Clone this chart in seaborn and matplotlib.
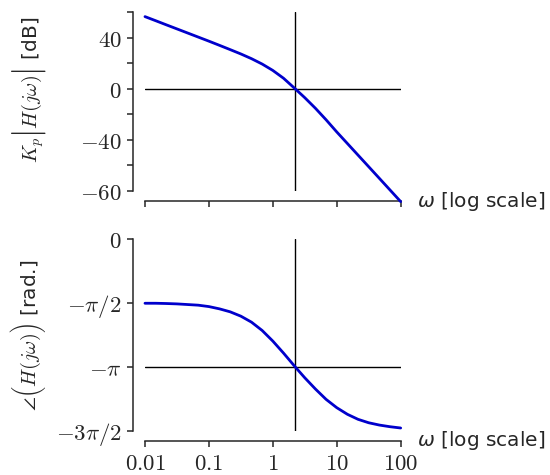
import numpy as np
import matplotlib
matplotlib.use("Agg")
import matplotlib.pyplot as plt
from matplotlib.ticker import NullLocator, FixedLocator
from matplotlib.mathtext import MathTextParser
import seaborn as sns

# ---- data ----
omega = [0.01, 0.0147, 0.0215, 0.0316, 0.0464, 0.0681, 0.1, 0.147, 0.215,
         0.316, 0.464, 0.681, 1.0, 1.47, 2.23, 3.16, 4.64, 6.81, 10.0,
         14.7, 21.5, 31.6, 46.4, 68.1, 100.0]
mag_db = [56.4, 53.2, 50.0, 46.8, 43.6, 40.4, 37.2, 33.9, 30.6,
          27.2, 23.5, 19.3, 14.3, 8.2, 0.0, -7.0, -15.3, -24.3, -33.8,
          -42.9, -51.9, -61.0, -70.1, -79.2, -88.3]
phase_pi = [-0.503, -0.503, -0.505, -0.508, -0.513, -0.518, -0.529, -0.547, -0.570,
            -0.604, -0.651, -0.716, -0.799, -0.893, -1.0, -1.086, -1.174, -1.255, -1.320,
            -1.372, -1.411, -1.438, -1.456, -1.469, -1.479]
crossover = 2.23

x_ticks = [0.01, 0.1, 1, 10, 100]
x_tick_labels = ["$0.01$", "$0.1$", "$1$", "$10$", "$100$"]
mag_ticks = [-80, -60, -40, -20, 0, 20, 40, 60]
mag_tick_labels = ["$-60$", "", "$-40$", "", "$0$", "", "$40$", ""]
phase_ticks_pi = [-1.5, -1.0, -0.5, 0.0]
phase_tick_labels = [r"$-3\pi/2$", r"$-\pi$", r"$-\pi/2$", r"$0$"]

x_label = r"$\omega$ [log scale]"

# ---- style ----
sns.set_style("ticks")
plt.rcParams["font.family"] = ["DejaVu Sans"]
plt.rcParams["mathtext.fontset"] = "cm"


def first_ok(cands):
    p = MathTextParser("path")
    for c in cands:
        try:
            p.parse(c, dpi=100)
            return c
        except Exception:
            pass
    return cands[-1]


BODY = r"\overset{\,}{\overset{\,}{\underset{\,}{H(j\omega)}}}"
mag_label = first_ok([
    r"$K_p\left|" + BODY + r"\right|$ [dB]",
    r"$K_p\left|H(j\omega)\right|$ [dB]",
])
phase_label = first_ok([
    r"$\angle\left(" + BODY + r"\right)$ [rad.]",
    r"$\angle\left(H(j\omega)\right)$ [rad.]",
])

curve_color = "#0000CC"
TICK_FS = 16.5
LABEL_FS = 14.5

fig = plt.figure(figsize=(5.5, 4.75), dpi=100)
ax1 = fig.add_axes([0.2636, 0.5979, 0.4649, 0.3768])
ax2 = fig.add_axes([0.2636, 0.0933, 0.4649, 0.4036])

phase = np.array(phase_pi) * np.pi

for ax in (ax1, ax2):
    ax.set_xscale("log")
    ax.set_xlim(0.01, 100)

sns.lineplot(x=omega, y=mag_db, ax=ax1, color=curve_color, lw=2, clip_on=False, zorder=3)
sns.lineplot(x=omega, y=phase, ax=ax2, color=curve_color, lw=2, clip_on=False, zorder=3)

ax1.axhline(0, color="k", lw=1, zorder=2)
ax1.axvline(crossover, color="k", lw=1, zorder=2)
ax2.axhline(-np.pi, color="k", lw=1, zorder=2)
ax2.axvline(crossover, color="k", lw=1, zorder=2)

ax1.set_ylim(-80, 60)
ax2.set_ylim(-1.5 * np.pi, 0)

ax1.yaxis.set_major_locator(FixedLocator(mag_ticks))
ax1.set_yticklabels(mag_tick_labels)
ax2.yaxis.set_major_locator(FixedLocator(np.array(phase_ticks_pi) * np.pi))
ax2.set_yticklabels(phase_tick_labels)

for ax in (ax1, ax2):
    ax.xaxis.set_major_locator(FixedLocator(x_ticks))
    ax.xaxis.set_minor_locator(NullLocator())
    ax.yaxis.set_minor_locator(NullLocator())
    ax.tick_params(length=4.5, width=1.1, labelsize=TICK_FS, color="0.15")
    sns.despine(ax=ax, offset={"left": 8.6, "bottom": 7.5})
    for s in ("left", "bottom"):
        ax.spines[s].set_linewidth(1.1)
        ax.spines[s].set_color("0.15")

ax1.set_xticklabels([])
ax2.set_xticklabels(x_tick_labels)

for ax, lab, yc in ((ax1, mag_label, 0.565), (ax2, phase_label, 0.496)):
    ax.set_ylabel(lab, fontsize=LABEL_FS)
    ax.yaxis.set_label_coords(-0.379, yc)
    ax.set_xlabel(x_label, fontsize=LABEL_FS, ha="left", va="center",
                  math_fontfamily="dejavusans")

ax1.xaxis.set_label_coords(1.0626, -0.06)
ax2.xaxis.set_label_coords(1.0626, -0.052)

fig.savefig("out.png", dpi=100)
